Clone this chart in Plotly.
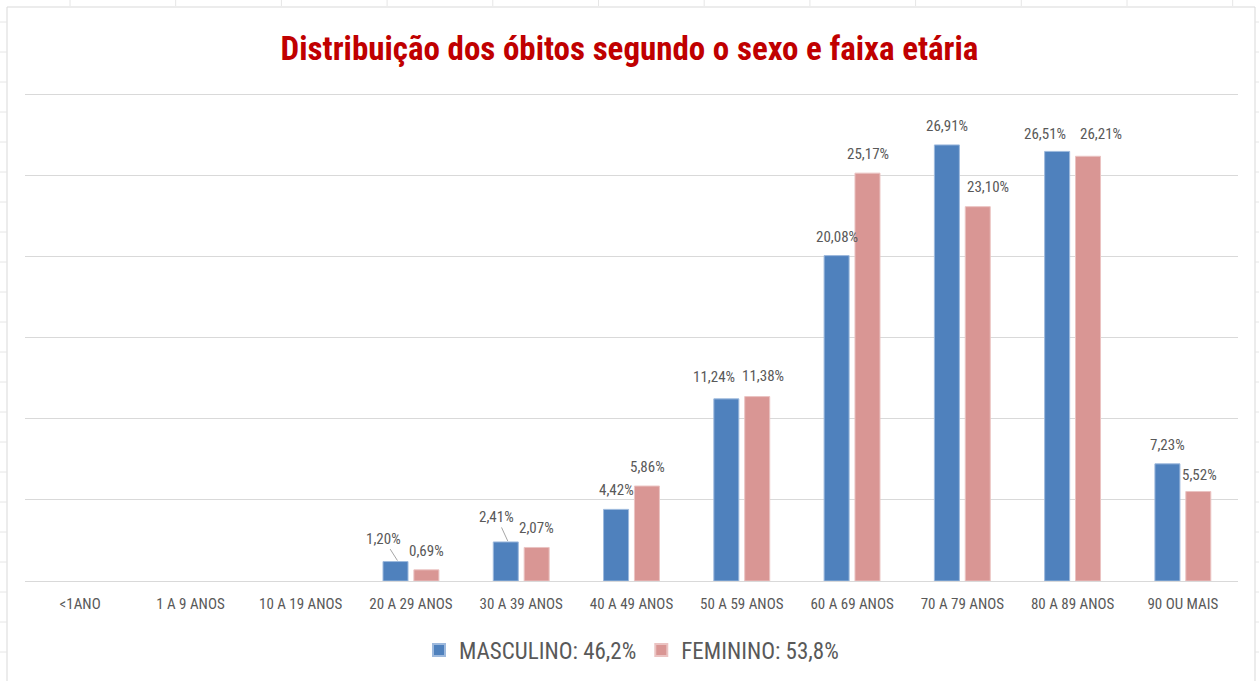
import plotly.graph_objects as go

faixas = ['<1ANO', '1 A 9 ANOS', '10 A 19 ANOS', '20 A 29 ANOS', '30 A 39 ANOS',
          '40 A 49 ANOS', '50 A 59 ANOS', '60 A 69 ANOS', '70 A 79 ANOS',
          '80 A 89 ANOS', '90 OU MAIS']
masculino = [0, 0, 0, 1.20, 2.41, 4.42, 11.24, 20.08, 26.91, 26.51, 7.23]
feminino = [0, 0, 0, 0.69, 2.07, 5.86, 11.38, 25.17, 23.10, 26.21, 5.52]
nome_masc = 'MASCULINO: 46,2%'
nome_fem = 'FEMININO: 53,8%'

FONT = 'Liberation Sans Narrow, Roboto Condensed, Liberation Sans, sans-serif'
GRAY = '#595959'
W, H = 1259, 681
L, R, T, B = 25, 21, 90, 100

def px_x(p):
    return (p - L) / (W - L - R)

def px_y(p):
    return (H - B - p) / (H - T - B)

# label nudges (dx, dy) in pixels relative to the bar top, and optional leader line
nudge_masc = {3: (-12, -22, True), 4: (-9, -24, True), 6: (-12, -22, False),
              9: (-12, -17, False)}
nudge_fem = {6: (6, -21, False), 8: (10, -20, False), 9: (13, -22, False),
             10: (1, -17, False)}

fig = go.Figure()
fig.add_trace(go.Bar(x=faixas, y=masculino, name=nome_masc,
                     marker=dict(color='#4F81BD', line=dict(color='#9DB9DD',
                                 width=[1 if v else 0 for v in masculino]))))
fig.add_trace(go.Bar(x=faixas, y=feminino, name=nome_fem,
                     marker=dict(color='#D99694', line=dict(color='#EBC3C2',
                                 width=[1 if v else 0 for v in feminino]))))

slot = 31
for values, side, nudges in [(masculino, -1, nudge_masc), (feminino, 1, nudge_fem)]:
    for i, v in enumerate(values):
        if v == 0:
            continue
        dx, dy, leader = nudges.get(i, (0, -19, False))
        text = f'{v:.2f}%'.replace('.', ',')
        if leader:
            fig.add_annotation(x=faixas[i], y=v, xshift=side * slot / 2 + 2, yshift=1,
                               text=text, showarrow=True, arrowhead=0, arrowwidth=1,
                               arrowcolor='#A6A6A6', ax=dx - 2, ay=dy, standoff=0,
                               font=dict(family=FONT, size=15, color=GRAY))
        else:
            fig.add_annotation(x=faixas[i], y=v, xshift=side * slot / 2 + dx, yshift=-dy,
                               text=text, showarrow=False,
                               font=dict(family=FONT, size=15, color=GRAY))

shapes = []
# chart frame
shapes.append(dict(type='rect', xref='paper', yref='paper', x0=px_x(7), x1=px_x(1255),
                   y0=px_y(690), y1=px_y(7), line=dict(color='#D9D9D9', width=1), layer='below'))
# spreadsheet cell borders peeking around the chart
for k in range(23):
    y = 22 + 30 * k
    shapes.append(dict(type='line', xref='paper', yref='paper', x0=px_x(0), x1=px_x(7),
                       y0=px_y(y), y1=px_y(y), line=dict(color='#E6E6E6', width=1)))
    shapes.append(dict(type='line', xref='paper', yref='paper', x0=px_x(1255), x1=px_x(1259),
                       y0=px_y(y), y1=px_y(y), line=dict(color='#E6E6E6', width=1)))
for k in range(12):
    x = 70 + 105.7 * k
    shapes.append(dict(type='line', xref='paper', yref='paper', x0=px_x(x), x1=px_x(x),
                       y0=px_y(0), y1=px_y(6), line=dict(color='#E6E6E6', width=1)))

fig.update_layout(
    width=W, height=H,
    margin=dict(l=L, r=R, t=T, b=B, autoexpand=False),
    paper_bgcolor='white', plot_bgcolor='white',
    barmode='group', bargap=0.44, bargroupgap=0.19,
    title=dict(text='<b>Distribuição dos óbitos segundo o sexo e faixa etária</b>',
               x=0.5, xanchor='center', y=1 - 48 / H, yanchor='middle',
               font=dict(family=FONT, size=33, color='#C00000')),
    legend=dict(orientation='h', x=0.5, xanchor='center', y=px_y(650), yanchor='middle',
                font=dict(family=FONT, size=23, color=GRAY), itemsizing='constant'),
    shapes=shapes,
    font=dict(family=FONT, color=GRAY),
)
fig.update_xaxes(showgrid=False, showline=True, linecolor='#D9D9D9', ticks='',
                 ticklabelstandoff=9,
                 tickfont=dict(family=FONT, size=15, color=GRAY), fixedrange=True)
fig.update_yaxes(range=[0, 30.3], tickvals=[5, 10, 15, 20, 25, 30], showgrid=True,
                 gridcolor='#D9D9D9', showticklabels=False, zeroline=False,
                 showline=False, fixedrange=True)

fig.write_html('out.html', config={'displayModeBar': False},
               post_script="document.body.style.margin='0';")
